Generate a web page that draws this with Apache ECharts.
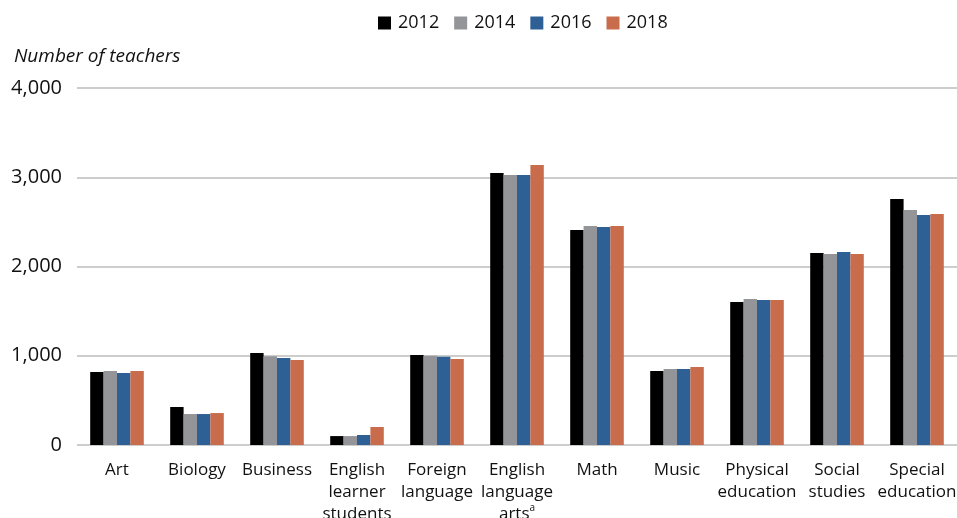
<!DOCTYPE html>
<html>
<head>
<meta charset="utf-8">
<script src="https://cdn.jsdelivr.net/npm/echarts@6/dist/echarts.min.js"></script>
<style>
  html, body { margin: 0; padding: 0; background: #fff; overflow: hidden; }
  #chart { width: 957px; height: 518px; }
</style>
</head>
<body>
<div id="chart"></div>
<script>
// Subjects along the x axis (line breaks as printed)
const subjects = [
  'Art', 'Biology', 'Business', 'English\nlearner\nstudents', 'Foreign\nlanguage',
  'English\nlanguage\n{t|arts}{sup|a}', 'Math', 'Music', 'Physical\neducation',
  'Social\nstudies', 'Special\neducation'
];

const years = ['2012', '2014', '2016', '2018'];

// Number of teachers by subject, one array per year
const teachers2012 = [818, 426, 1031, 100, 1008, 3048, 2409, 829, 1602, 2151, 2756];
const teachers2014 = [829, 347, 994, 100, 1001, 3025, 2454, 852, 1636, 2140, 2633];
const teachers2016 = [807, 347, 975, 112, 990, 3025, 2443, 852, 1625, 2162, 2577];
const teachers2018 = [829, 358, 952, 202, 964, 3137, 2454, 874, 1625, 2140, 2588];

const yTicks = [0, 1000, 2000, 3000, 4000];

const colors = ['#000000', '#939598', '#2e6095', '#c96c4c'];
const seriesData = [teachers2012, teachers2014, teachers2016, teachers2018];

const FONT = '"Open Sans", "Noto Sans", sans-serif';

const chart = echarts.init(document.getElementById('chart'), null, { renderer: 'canvas' });

chart.setOption({
  animation: false,
  textStyle: { fontFamily: FONT },
  legend: {
    top: 9,
    left: 373,
    itemWidth: 13,
    itemHeight: 13,
    itemGap: 15,
    icon: 'rect',
    textStyle: { fontSize: 18, color: '#111', fontFamily: FONT, padding: [0, 0, 0, 2] },
    data: years
  },
  grid: { left: 77, right: 0, top: 88, bottom: 73, containLabel: false, outerBoundsMode: 'none' },
  xAxis: {
    type: 'category',
    data: subjects,
    axisLine: { show: false },
    axisTick: { show: false },
    axisLabel: {
      interval: 0,
      margin: 14,
      fontSize: 17,
      lineHeight: 22,
      color: '#111',
      fontFamily: FONT,
      rich: {
        t: { fontSize: 17, lineHeight: 22, color: '#111', fontFamily: FONT },
        sup: { fontSize: 10, lineHeight: 22, color: '#111', fontFamily: FONT, verticalAlign: 'top', padding: [0, 0, 8, 0] }
      }
    }
  },
  yAxis: {
    type: 'value',
    min: yTicks[0],
    max: yTicks[yTicks.length - 1],
    interval: 1000,
    name: 'Number of teachers',
    nameLocation: 'end',
    nameGap: 0,
    nameTextStyle: {
      fontSize: 19,
      fontStyle: 'italic',
      color: '#111',
      fontFamily: FONT,
      align: 'left',
      verticalAlign: 'bottom',
      padding: [0, 0, 22, -63]
    },
    axisLine: { show: false },
    axisTick: { show: false },
    axisLabel: {
      margin: 15,
      fontSize: 20,
      color: '#111',
      fontFamily: FONT,
      formatter: v => v.toLocaleString('en-US')
    },
    splitLine: { lineStyle: { color: '#bdbdbd', width: 1.5 } }
  },
  series: years.map((y, i) => ({
    name: y,
    type: 'bar',
    data: seriesData[i],
    barGap: '0%',
    barCategoryGap: '33%',
    itemStyle: { color: colors[i] }
  }))
});
</script>
</body>
</html>
